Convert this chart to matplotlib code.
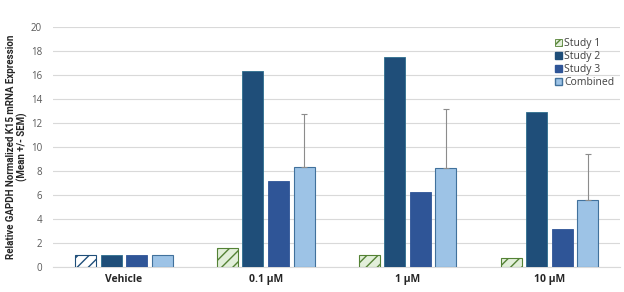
import matplotlib
matplotlib.use("Agg")
import matplotlib.pyplot as plt
import numpy as np
from matplotlib.patches import Patch

plt.rcParams['font.family'] = ['Open Sans', 'DejaVu Sans']
plt.rcParams['hatch.linewidth'] = 1.0

categories = ["Vehicle", "0.1 µM", "1 µM", "10 µM"]
series = ["Study 1", "Study 2", "Study 3", "Combined"]
study1 = [1.0, 1.56, 1.0, 0.78]
study2 = [1.0, 16.35, 17.5, 12.9]
study3 = [1.0, 7.15, 6.28, 3.14]
combined = [1.0, 8.36, 8.28, 5.61]
combined_sem = [0.0, 4.36, 4.86, 3.78]
yticks = list(range(0, 21, 2))

fig = plt.figure(figsize=(6.24, 2.92), dpi=100)
ax = fig.add_axes([0.085, 0.0856, 0.909, 0.822])

x = np.arange(len(categories))
w = 0.148
pitch = 0.18
offs = (np.arange(4) - 1.5) * pitch

# Study 1 (hatched)
for i, v in enumerate(study1):
    if i == 0:
        fc, ec = "white", "#1f4e79"
    else:
        fc, ec = "#e2efda", "#548235"
    ax.bar(x[i] + offs[0], v, w, facecolor=fc, edgecolor=ec, hatch="///", linewidth=0.8, zorder=3)

ax.bar(x + offs[1], study2, w, color="#1f4e79", edgecolor="#2e6e8e", linewidth=0.6, zorder=3)
ax.bar(x + offs[2], study3, w, color="#2f5597", edgecolor="#2f5597", linewidth=0.6, zorder=3)
ax.bar(x + offs[3], combined, w, color="#9dc3e6", edgecolor="#41719c", linewidth=0.8, zorder=3)

for i in range(1, len(categories)):
    ax.errorbar(x[i] + offs[3], combined[i], yerr=[[0], [combined_sem[i]]], fmt="none",
                ecolor="#8c8c8c", elinewidth=0.8, capsize=2, capthick=0.8, zorder=4)

ax.set_xlim(-0.5, len(categories) - 0.5)
ax.set_ylim(0, 20)
ax.set_yticks(yticks)
ax.set_yticklabels([str(t) for t in yticks], fontsize=7, color="#595959")
ax.set_xticks(x)
ax.set_xticklabels(categories, fontsize=7.5, fontweight="bold", color="#262626")
ax.tick_params(axis="both", length=0, pad=5)
ax.tick_params(axis="y", pad=8)
ax.yaxis.grid(True, color="#d9d9d9", linewidth=0.8, zorder=0)
ax.set_axisbelow(True)
for s in ["top", "right", "left"]:
    ax.spines[s].set_visible(False)
ax.spines["bottom"].set_color("#d9d9d9")
ax.spines["bottom"].set_linewidth(0.8)

fig.text(17 / 624, 1 - 147 / 292,
         "Relative GAPDH Normalized K15 mRNA Expression\n(Mean +/- SEM)",
         rotation=90, ha="center", va="center", multialignment="center",
         fontsize=7, fontweight="bold", color="#262626",
         family=["Roboto", "DejaVu Sans"], linespacing=1.15)

handles = [
    Patch(facecolor="#e2efda", edgecolor="#548235", hatch="////", linewidth=0.6),
    Patch(facecolor="#1f4e79", edgecolor="#1f4e79"),
    Patch(facecolor="#2f5597", edgecolor="#2f5597"),
    Patch(facecolor="#9dc3e6", edgecolor="#41719c"),
]
leg = ax.legend(handles, series, loc="upper right", bbox_to_anchor=(1.0, 0.98),
                frameon=False, fontsize=7.5, handlelength=0.7, handleheight=0.7,
                handletextpad=0.2, labelspacing=0.2, borderaxespad=0.2)
for t in leg.get_texts():
    t.set_color("#404040")

fig.savefig("out.png", dpi=100)
